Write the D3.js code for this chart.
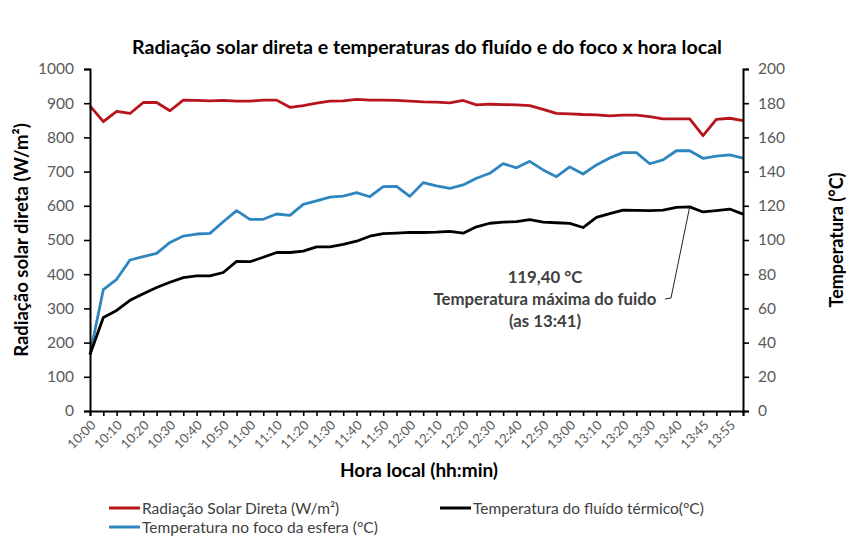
<!DOCTYPE html>
<html><head><meta charset="utf-8">
<script src="https://cdn.jsdelivr.net/npm/d3@7"></script>
<style>
html,body{margin:0;padding:0;background:#fff;}
svg{display:block;font-family:Lato,"Open Sans",sans-serif;}
</style></head>
<body>
<svg id="chart" width="846" height="537"></svg>
<script>
const categories = ["10:00","10:05","10:10","10:15","10:20","10:25","10:30","10:35","10:40","10:45",
"10:50","10:55","11:00","11:05","11:10","11:15","11:20","11:25","11:30","11:35",
"11:40","11:45","11:50","11:55","12:00","12:05","12:10","12:15","12:20","12:25",
"12:30","12:35","12:40","12:45","12:50","12:55","13:00","13:05","13:10","13:15",
"13:20","13:25","13:30","13:35","13:40","13:41","13:45","13:50","13:55","14:00"];
const radiacao = [892,846,876,870,902,902,878,909,908,907,
908,906,906,909,909,888,893,900,906,907,
911,909,909,908,906,904,903,901,908,895,
897,896,895,893,882,870,869,867,866,863,
865,865,861,854,854,854,805,853,856,849];
const tempFoco = [33,71,77,88.3,90.3,92.2,98.6,102.3,103.5,103.9,
110.7,117.2,112.1,112.1,115.2,114.4,120.8,122.9,125.1,125.7,
127.7,125.3,131.2,131.4,125.5,133.5,131.6,130.2,132.2,136.1,
139.0,144.7,142.2,146,141,137,142.7,138.6,143.9,148,
151.1,151.1,144.6,146.8,152.2,152.2,147.8,149.1,149.8,147.9];
const tempFluido = [33,54.7,58.8,64.7,68.6,72.2,75.3,78.0,79,79,
81,87.5,87.3,89.9,92.7,92.7,93.5,96,96,97.4,
99.3,102.2,103.7,104,104.4,104.4,104.6,105,104,107.7,
109.8,110.5,110.7,111.9,110.5,110.1,109.7,107.3,113.2,115.4,
117.5,117.3,117.2,117.5,119.1,119.4,116.4,117.2,118.1,115.1];
const leftTicks = [0,100,200,300,400,500,600,700,800,900,1000];
const rightTicks = [0,20,40,60,80,100,120,140,160,180,200];
const seriesNames = ["Radiação Solar Direta (W/m²)","Temperatura do fluído térmico(°C)","Temperatura no foco da esfera (°C)"];
const colors = {rad:"#B8141C", foco:"#2E86BF", fluido:"#000000"};

const svg = d3.select("#chart");
const L = 90, R = 743, T = 69, B = 411;
const x = d3.scalePoint().domain(categories).range([L, R]);
const yL = d3.scaleLinear().domain([0,1000]).range([B, T]);
const yR = d3.scaleLinear().domain([0,200]).range([B, T]);
const fontF = 'Lato,"Open Sans",sans-serif';

// Title
svg.append("text").attr("x",427).attr("y",54).attr("text-anchor","middle")
  .attr("font-size",19.6).attr("font-weight","bold").attr("fill","#000")
  .text("Radiação solar direta e temperaturas do fluído e do foco x hora local");

// lines
const lineL = d3.line().x((d,i)=>x(categories[i])).y(d=>yL(d));
const lineR = d3.line().x((d,i)=>x(categories[i])).y(d=>yR(d));
svg.append("path").datum(radiacao).attr("d",lineL).attr("fill","none").attr("stroke",colors.rad).attr("stroke-width",2.8).attr("stroke-linejoin","round");
svg.append("path").datum(tempFoco).attr("d",lineR).attr("fill","none").attr("stroke",colors.foco).attr("stroke-width",2.8).attr("stroke-linejoin","round");
svg.append("path").datum(tempFluido).attr("d",lineR).attr("fill","none").attr("stroke",colors.fluido).attr("stroke-width",2.8).attr("stroke-linejoin","round");

// axes
const axL = d3.axisLeft(yL).tickValues(leftTicks).tickFormat(d3.format("d")).tickSize(6).tickPadding(10);
const gL = svg.append("g").attr("transform",`translate(${L},0)`).call(axL);
const axR = d3.axisRight(yR).tickValues(rightTicks).tickFormat(d3.format("d")).tickSize(6).tickPadding(9);
const gR = svg.append("g").attr("transform",`translate(${R},0)`).call(axR);
const axB = d3.axisBottom(x).tickSize(5).tickFormat((d,i)=> i%2===0 ? d : "");
const gB = svg.append("g").attr("transform",`translate(0,${B})`).call(axB);
[gL,gR,gB].forEach(g=>{
  g.select(".domain").attr("stroke","#000").attr("stroke-width",2);
  g.selectAll(".tick line").attr("stroke","#000").attr("stroke-width",1.6);
  g.selectAll("text").attr("font-family",fontF).attr("fill","#595959");
});
gL.selectAll("text").attr("font-size",15.5);
gR.selectAll("text").attr("font-size",15.5);
gB.selectAll("text").attr("font-size",13)
  .attr("text-anchor","end").attr("dy",0).attr("y",0)
  .attr("transform","translate(6,15) rotate(-45)");

// axis titles
svg.append("text").attr("x",419).attr("y",477).attr("text-anchor","middle")
  .attr("font-size",19).attr("font-weight","bold").text("Hora local (hh:min)");
svg.append("text").attr("transform","translate(28,240) rotate(-90)").attr("text-anchor","middle")
  .attr("font-size",18.5).attr("font-weight","bold").text("Radiação solar direta (W/m²)");
svg.append("text").attr("transform","translate(843,240) rotate(-90)").attr("text-anchor","middle")
  .attr("font-size",18).attr("font-weight","bold").text("Temperatura (°C)");

// annotation
const maxIdx = tempFluido.indexOf(d3.max(tempFluido));
const px = x(categories[maxIdx]), py = yR(tempFluido[maxIdx]);
svg.append("path").attr("d",`M${px},${py} L671,298 L665,299`).attr("fill","none").attr("stroke","#222").attr("stroke-width",1);
const ann = svg.append("g").attr("font-size",16.8).attr("font-weight","bold").attr("fill","#404040").attr("text-anchor","middle");
ann.append("text").attr("x",545).attr("y",283).text(tempFluido[maxIdx].toFixed(2).replace(".",",")+" °C");
ann.append("text").attr("x",545).attr("y",305).text("Temperatura máxima do fuido");
ann.append("text").attr("x",545).attr("y",327).text("(as "+categories[maxIdx]+")");

// legend
const legend = [
  {name:seriesNames[0], color:colors.rad, lx:109, ly:508},
  {name:seriesNames[1], color:colors.fluido, lx:440, ly:508},
  {name:seriesNames[2], color:colors.foco, lx:109, ly:527}
];
const lg = svg.append("g");
legend.forEach(d=>{
  lg.append("line").attr("x1",d.lx).attr("x2",d.lx+31).attr("y1",d.ly).attr("y2",d.ly)
    .attr("stroke",d.color).attr("stroke-width",3);
  lg.append("text").attr("x",d.lx+33).attr("y",d.ly+5.5).attr("font-size",15.5).attr("fill","#404040").text(d.name);
});
</script>
</body></html>
